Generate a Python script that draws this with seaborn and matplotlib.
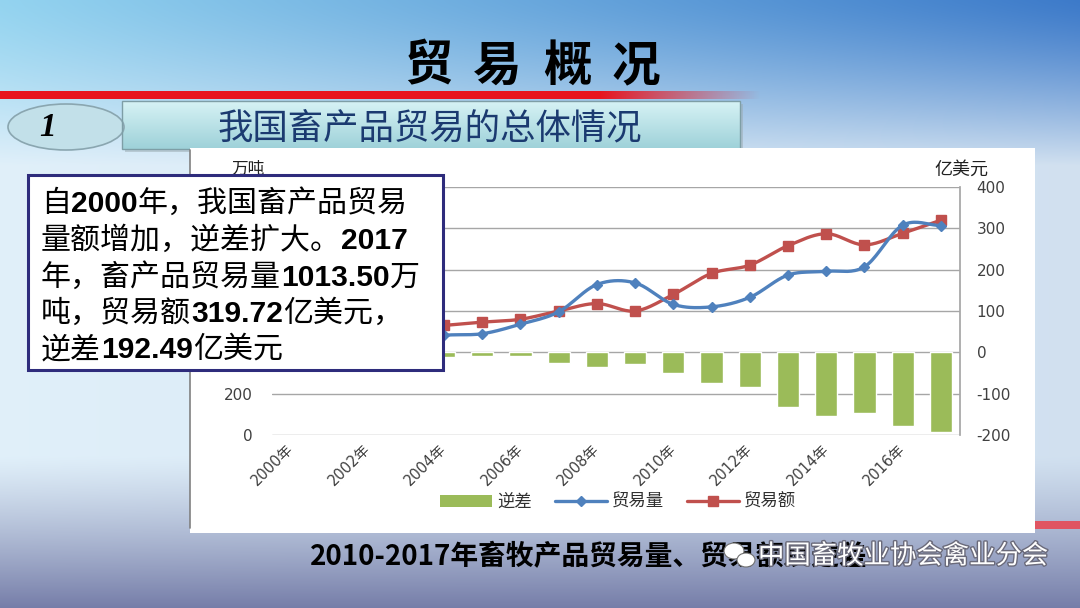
import numpy as np
import matplotlib
matplotlib.use("Agg")
import matplotlib.pyplot as plt
import seaborn as sns
from matplotlib.patches import Rectangle, Ellipse, Patch
from matplotlib.lines import Line2D
import matplotlib.patheffects as pe

# ---------------- data ----------------
years = [str(y) for y in range(2000, 2018)]
year_labels = [f"{y}年" for y in range(2000, 2018)]
deficit = [-3, -4, -5, -8, -11, -8, -10, -25, -35, -28, -49, -75, -85, -132, -155, -147, -178, -192.49]
trade_value = [38, 42, 47, 56, 65, 73, 80, 100, 118, 100, 140, 191, 211, 258, 287, 260, 288, 319.72]
trade_volume = [380, 400, 420, 450, 482, 490, 536, 596, 728, 736, 632, 620, 666, 774, 792, 814, 1015, 1013.5]
right_ticks = [-200, -100, 0, 100, 200, 300, 400]
left_ticks = [0, 200, 400, 600, 800, 1000, 1200]
left_tick_labels = ["0", "200", "", "", "", "", ""]   # higher labels are covered by the text box
legend_labels = ["逆差", "贸易量", "贸易额"]
title_chars = ["贸", "易", "概", "况"]

GREEN = "#9BBB59"
BLUE = "#4F81BD"
RED = "#C0504D"

sns.set_theme(style="white")
plt.rcParams['font.family'] = ['Noto Sans CJK SC', 'DejaVu Sans']

W, H = 1080, 608
fig = plt.figure(figsize=(10.8, 6.08), dpi=100)


def fx(px):
    return px / W


def fy(py):
    return 1 - py / H


# ---------------- background ----------------
bg = fig.add_axes([0, 0, 1, 1], zorder=-10)
yy, xx = np.mgrid[0:H, 0:W].astype(float)
xs = xx / W
top_l = np.array([0.58, 0.83, 0.94])
top_r = np.array([0.24, 0.48, 0.79])
light_l = np.array([0.88, 0.94, 0.98])
light_r = np.array([0.82, 0.88, 0.94])
top_col = top_l[None, None, :] * (1 - xs[..., None]) + top_r[None, None, :] * xs[..., None]
light_col = light_l[None, None, :] * (1 - xs[..., None]) + light_r[None, None, :] * xs[..., None]
v = np.clip(yy / 165.0, 0, 1)[..., None] ** 1.3
img = top_col * (1 - v) + light_col * v
bot = np.array([0.46, 0.49, 0.66])
b = np.clip((yy - 455) / (H - 455), 0, 1)[..., None] ** 1.2
img = img * (1 - b) + bot[None, None, :] * b
bg.imshow(img, extent=[0, W, H, 0], aspect='auto', zorder=0)

# red band
band = np.zeros((1, 760, 4))
band[..., 0] = 0.91
band[..., 1] = 0.08
band[..., 2] = 0.12
band[0, :, 3] = np.clip((760 - np.arange(760)) / 160.0, 0, 1)
bg.imshow(band, extent=[0, 760, 99, 91], aspect='auto', zorder=1)

# section header box
grad = np.zeros((40, 1, 3))
tv = np.linspace(0, 1, 40)[:, None]
grad[:, :, :] = (np.array([0.84, 0.95, 0.96]) * (1 - tv) + np.array([0.62, 0.82, 0.85]) * tv)[:, None, :]
bg.add_patch(Rectangle((125, 104), 618, 48, facecolor="#9AAAB0", edgecolor="none", alpha=0.5, zorder=1))
bg.imshow(grad, extent=[122, 740, 149, 101], aspect='auto', zorder=2)
bg.add_patch(Rectangle((122, 101), 618, 48, facecolor="none", edgecolor="#7E9EA6", lw=1, zorder=3))
bg.add_patch(Ellipse((66, 127), 116, 46, facecolor="#C2E0E9", edgecolor="#8AA6B0", lw=1.2, zorder=2))

# chart panel
bg.add_patch(Rectangle((190, 148), 845, 385, facecolor="white", edgecolor="none", zorder=3))
bg.plot([190, 190], [150, 528], color="#808080", lw=1.2, zorder=4)
bg.add_patch(Rectangle((1035, 521), 45, 8, facecolor="#E05562", edgecolor="none", zorder=3))
bg.set_xlim(0, W)
bg.set_ylim(H, 0)
bg.axis('off')

# ---------------- chart ----------------
ax = fig.add_axes([fx(272), fy(435), (960 - 272) / W, (435 - 187) / H], zorder=1)
ax.patch.set_alpha(0)
sns.barplot(x=years, y=deficit, color=GREEN, width=0.58, saturation=1, ax=ax, zorder=2)


def smooth(xv, yv, n=20):
    P = np.column_stack([xv, yv]).astype(float)
    P = np.vstack([2 * P[0] - P[1], P, 2 * P[-1] - P[-2]])
    t = np.linspace(0, 1, n, endpoint=False)[:, None]
    out = []
    for i in range(1, len(P) - 2):
        p0, p1, p2, p3 = P[i - 1], P[i], P[i + 1], P[i + 2]
        out.append(0.5 * (2 * p1 + (-p0 + p2) * t + (2 * p0 - 5 * p1 + 4 * p2 - p3) * t ** 2
                          + (-p0 + 3 * p1 - 3 * p2 + p3) * t ** 3))
    out.append(P[-2][None, :])
    return np.vstack(out)


xpos = np.arange(len(years))
ax2 = ax.twinx()
sv = smooth(xpos, trade_volume)
sns.lineplot(x=sv[:, 0], y=sv[:, 1], sort=False, estimator=None, color=BLUE, lw=2.4, ax=ax2, zorder=3)
ax2.plot(xpos, trade_volume, linestyle="none", marker="D", ms=5, color=BLUE, zorder=4)
sr = smooth(xpos, trade_value)
sns.lineplot(x=sr[:, 0], y=sr[:, 1], sort=False, estimator=None, color=RED, lw=2.4, ax=ax, zorder=5)
ax.plot(xpos, trade_value, linestyle="none", marker="s", ms=7, color=RED, zorder=6)

ax.set_xlim(-0.5, len(years) - 0.5)
ax.set_ylim(-200, 400)
ax2.set_ylim(0, 1200)
ax.set_yticks(right_ticks)
ax.set_yticklabels([str(t) for t in right_ticks])
ax2.set_yticks(left_ticks)
ax2.set_yticklabels(left_tick_labels)
ax.yaxis.tick_right()
ax2.yaxis.tick_left()
ax.yaxis.grid(True, color="#A6A6A6", lw=1)
ax.set_axisbelow(True)
for s in ["left", "top", "bottom"]:
    ax.spines[s].set_visible(False)
    ax2.spines[s].set_visible(False)
ax.spines["right"].set_visible(True)
ax.spines["right"].set_color("#A6A6A6")
ax2.spines["right"].set_visible(False)
ax.set_xlabel("")
ax.set_ylabel("")
ax2.set_xlabel("")
ax2.set_ylabel("")
ax.set_xticks(xpos[::2])
ax.set_xticklabels(year_labels[::2], rotation=45, ha="right", va="center", rotation_mode="anchor",
                   family=['DejaVu Sans', 'Noto Sans CJK SC'], fontsize=10.5, color="#404040")
ax.tick_params(axis="x", length=0, pad=8)
ax.tick_params(axis="y", length=0, pad=12, labelsize=11, labelcolor="#404040")
ax2.tick_params(axis="y", length=0, pad=14, labelsize=11, labelcolor="#404040")
for lab in ax.get_yticklabels() + ax2.get_yticklabels():
    lab.set_family(['DejaVu Sans'])

# unit labels
fig.text(fx(248), fy(169), "万吨", ha="center", va="center", fontsize=12, color="#202020")
fig.text(fx(961), fy(170), "亿美元", ha="center", va="center", fontsize=13, color="#202020")

# legend
handles = [Patch(facecolor=GREEN, edgecolor="none"),
           Line2D([0], [0], color=BLUE, lw=2.4, marker="D", ms=5),
           Line2D([0], [0], color=RED, lw=2.4, marker="s", ms=7)]
fig.legend(handles, legend_labels, loc="center", bbox_to_anchor=(fx(618), fy(502)), ncol=3,
           frameon=False, fontsize=12.5, handlelength=3, handletextpad=0.3, columnspacing=1.3,
           labelcolor="#303030")

# ---------------- overlay (titles, text box) ----------------
ov = fig.add_axes([0, 0, 1, 1], zorder=10)
ov.set_xlim(0, W)
ov.set_ylim(H, 0)
ov.axis('off')
ov.patch.set_alpha(0)

for cx, ch in zip([428, 497, 567, 636], title_chars):
    ov.text(cx, 66, ch, ha="center", va="center", fontsize=35, weight="bold", color="black")

ov.text(48, 127, "1", ha="center", va="center", fontsize=24, style="italic", weight="bold",
        family=["Liberation Serif"], color="black")
ov.text(430, 128, "我国畜产品贸易的总体情况", ha="center", va="center", fontsize=25.5, color="#1B3A70")

# text box
ov.add_patch(Rectangle((28, 175), 415, 195, facecolor="white", edgecolor="#2E2C7C", lw=2.2, zorder=11))
lines = [
    [("自", False), ("2000", True), ("年，我国畜产品贸易", False)],
    [("量额增加，逆差扩大。", False), ("2017", True)],
    [("年，畜产品贸易量", False), ("1013.50", True), ("万", False)],
    [("吨，贸易额", False), ("319.72", True), ("亿美元，", False)],
    [("逆差", False), ("192.49", True), ("亿美元", False)],
]
baselines = [212, 249, 286, 322, 358]
for segs, yb in zip(lines, baselines):
    prev = None
    for txt, bold in segs:
        kw = dict(fontsize=21.6, va="baseline", ha="left", color="black", zorder=12)
        if bold:
            kw.update(weight="bold", family=["Liberation Sans", "Noto Sans CJK SC"])
        else:
            kw.update(family=["Noto Sans CJK SC"])
        if prev is None:
            prev = ov.text(41, yb, txt, **kw)
        else:
            prev = ov.annotate(txt, xy=(1, yb), xycoords=(prev, "data"), **kw)

# caption and watermark
ov.text(310, 557, "2010-2017年畜牧产品贸易量、贸易额及逆差", ha="left", va="center",
        fontsize=20, weight="bold", color="black", zorder=12)
ov.add_patch(Ellipse((734, 551), 20, 16, facecolor="white", edgecolor="#707070", lw=0.8, zorder=13))
ov.add_patch(Ellipse((746, 560), 18, 14, facecolor="white", edgecolor="#707070", lw=0.8, zorder=13))
ov.text(758, 556, "中国畜牧业协会禽业分会", ha="left", va="center", fontsize=19, color="white",
        zorder=13, path_effects=[pe.withStroke(linewidth=2, foreground="#6A6A7A")])

fig.savefig("out.png", dpi=100)
